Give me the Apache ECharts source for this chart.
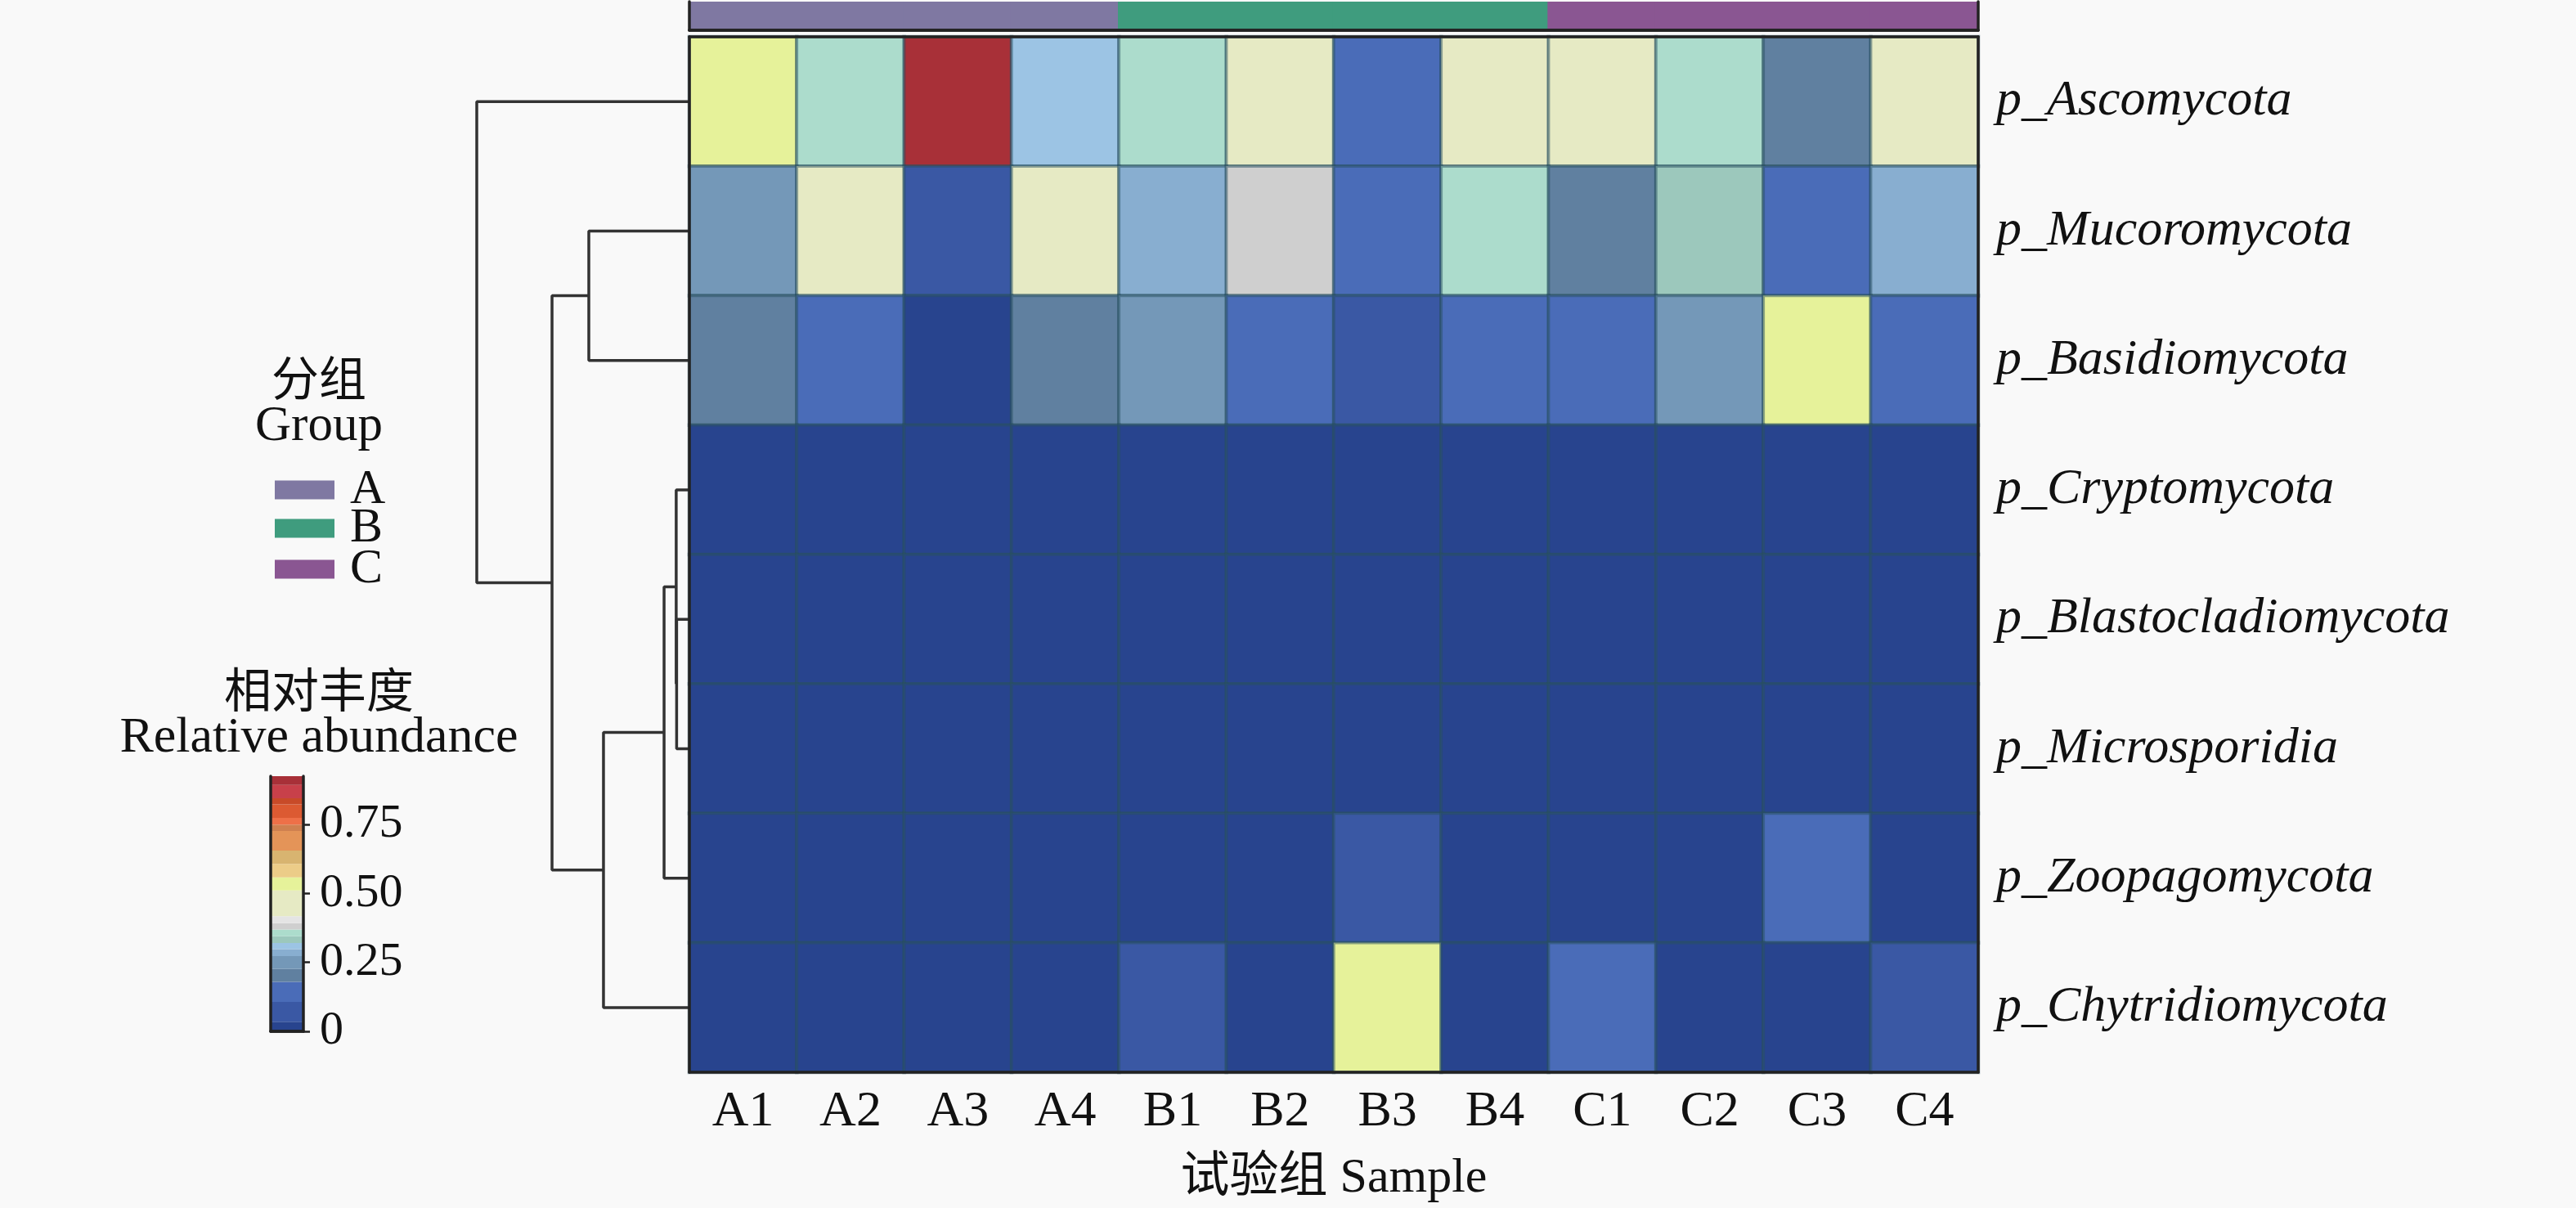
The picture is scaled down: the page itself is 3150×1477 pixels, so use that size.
<!DOCTYPE html>
<html><head><meta charset="utf-8">
<script src="https://cdn.jsdelivr.net/npm/echarts@6/dist/echarts.min.js"></script>
<style>html,body{margin:0;padding:0;background:#f9f9f9}#c{width:3150px;height:1477px}</style>
</head><body><div id="c"></div>
<script>
// ---------- data ----------
const samples = ['A1','A2','A3','A4','B1','B2','B3','B4','C1','C2','C3','C4'];
const groupOf = ['A','A','A','A','B','B','B','B','C','C','C','C'];
const groups = ['A','B','C'];
const groupColors = ['#7f78a2','#3f9c7e','#8a5692'];
const phyla = ['p_Ascomycota','p_Mucoromycota','p_Basidiomycota','p_Cryptomycota',
  'p_Blastocladiomycota','p_Microsporidia','p_Zoopagomycota','p_Chytridiomycota'];
const ascomycota         = [0.53,0.355,0.90,0.31,0.355,0.45,0.14,0.45,0.45,0.355,0.20,0.44];
const mucoromycota       = [0.25,0.45,0.07,0.45,0.285,0.38,0.14,0.355,0.20,0.33,0.14,0.285];
const basidiomycota      = [0.20,0.14,0.02,0.19,0.25,0.14,0.08,0.14,0.14,0.25,0.53,0.14];
const cryptomycota       = [0.004,0.003,0.001,0.004,0.005,0.004,0.003,0.004,0.005,0.003,0.002,0.004];
const blastocladiomycota = [0.003,0.002,0.001,0.003,0.004,0.003,0.002,0.003,0.004,0.002,0.002,0.003];
const microsporidia      = [0.002,0.002,0.001,0.002,0.003,0.002,0.003,0.002,0.003,0.002,0.002,0.002];
const zoopagomycota      = [0.01,0.01,0.004,0.012,0.02,0.012,0.07,0.01,0.02,0.012,0.13,0.01];
const chytridiomycota    = [0.02,0.03,0.004,0.02,0.08,0.02,0.53,0.02,0.14,0.02,0.01,0.08];
const rows = [ascomycota,mucoromycota,basidiomycota,cryptomycota,blastocladiomycota,
  microsporidia,zoopagomycota,chytridiomycota];

// colour scale (lower bounds of each step, last = max)
const colorBreaks = [0,0.035,0.107,0.179,0.226,0.273,0.298,0.32,0.345,0.369,0.392,0.417,
  0.511,0.558,0.607,0.655,0.726,0.749,0.774,0.823,0.845,0.893,0.925];
const colorSteps = ['#28448e','#3a58a4','#4a6cb8','#6080a0','#7498b8','#88aed0','#9cc4e4',
  '#9cc8bc','#acdccc','#cfcfcf','#e4e4e4','#e6eac4','#e6f29a','#eccc88','#d8b470','#e49458',
  '#cf8050','#ee7048','#dc5a32','#c84a28','#c8404a','#a83038'];
const colorTicks = [0,0.25,0.5,0.75];

// row dendrogram: [childA, childB, height]; 0-7 = leaves (rows), 8+ = earlier merges
const merges = [[4,5,0.060],[3,8,0.062],[9,6,0.119],[10,7,0.404],[1,2,0.473],[12,11,0.646],[0,13,1.0]];

// ---------- build ----------
const SERIF = "'Liberation Serif','Times New Roman','Noto Sans CJK SC',serif";
const TXT = '#111';
const heatData = [];
rows.forEach((r, yi) => r.forEach((v, xi) => heatData.push([xi, yi, v])));

const pieces = colorSteps.map((c, i) => i === colorSteps.length - 1
  ? {gte: colorBreaks[i], lte: 1, color: c}
  : {gte: colorBreaks[i], lt: colorBreaks[i+1], color: c});

const nodes = phyla.map((p, i) => ({pos: i + 0.5, h: 0}));
const dendroSeries = [];
merges.forEach(m => {
  const a = nodes[m[0]], b = nodes[m[1]], h = m[2];
  dendroSeries.push({
    type: 'line', xAxisIndex: 4, yAxisIndex: 4, symbol: 'none', silent: true, clip: false,
    lineStyle: {color: '#333', width: 3.5},
    data: [[a.h, a.pos], [h, a.pos], [h, b.pos], [b.h, b.pos]]
  });
  nodes.push({pos: (a.pos + b.pos) / 2, h: h});
});

const groupSeries = groups.map((g, gi) => ({
  type: 'bar', name: g, xAxisIndex: 2, yAxisIndex: 2, barWidth: 134, barGap: '-100%',
  silent: true, itemStyle: {color: groupColors[gi]},
  data: groupOf.map(x => x === g ? 1 : '-')
}));

const cbSeries = colorSteps.map((c, i) => ({
  type: 'bar', stack: 'cb', xAxisIndex: 5, yAxisIndex: 5, barWidth: '100%', silent: true,
  itemStyle: {color: c}, data: [+(colorBreaks[i+1] - colorBreaks[i]).toFixed(4)]
}));

const lineOnly = (extra) => Object.assign({
  axisLabel: {show: false}, axisTick: {show: false}, splitLine: {show: false},
  axisLine: {show: true, lineStyle: {color: '#222', width: 3.5}}, z: 10
}, extra);

const legendTops = [569, 616, 666];
const legends = groups.map((g, gi) => ({
  data: [g], orient: 'vertical', left: 336, top: legendTops[gi], padding: 0,
  itemWidth: 73, itemHeight: 23, icon: 'rect', selectedMode: false,
  textStyle: {color: TXT, fontSize: 60, fontFamily: SERIF, padding: [0,0,0,14]}
}));

const HM = {left: 843, top: 45, width: 1576, height: 1266};
const chart = echarts.init(document.getElementById('c'));
chart.setOption({
  animation: false,
  backgroundColor: '#f9f9f9',
  textStyle: {fontFamily: SERIF},
  grid: [
    HM,
    {left: 843, top: 2, width: 1576, height: 35},
    {left: 583, top: 45, width: 260, height: 1266},
    {left: 331, top: 949, width: 40, height: 312}
  ],
  xAxis: [
    {type: 'category', gridIndex: 0, data: samples, position: 'bottom', z: 10,
      axisLine: {lineStyle: {color: '#222', width: 3.5}},
      axisTick: {alignWithLabel: true, length: 14, lineStyle: {color: '#222', width: 2.5}},
      axisLabel: {color: TXT, fontSize: 62, fontFamily: SERIF, margin: 18},
      name: '试验组 Sample', nameLocation: 'middle', nameGap: 100,
      nameTextStyle: {color: TXT, fontSize: 60, fontFamily: SERIF}},
    lineOnly({type: 'category', gridIndex: 0, data: samples, position: 'top'}),
    lineOnly({type: 'category', gridIndex: 1, data: samples, position: 'bottom'}),
    lineOnly({type: 'category', gridIndex: 1, data: samples, position: 'top'}),
    {type: 'value', gridIndex: 2, min: 0, max: 1, inverse: true, show: false},
    lineOnly({type: 'category', gridIndex: 3, data: [''], position: 'bottom'}),
    lineOnly({type: 'category', gridIndex: 3, data: [''], position: 'top'})
  ],
  yAxis: [
    {type: 'category', gridIndex: 0, data: phyla, inverse: true, position: 'right', z: 10,
      axisLine: {lineStyle: {color: '#222', width: 3.5}},
      axisTick: {length: 13, lineStyle: {color: '#222', width: 2.5}},
      axisLabel: {color: TXT, fontSize: 62, fontStyle: 'italic', fontFamily: SERIF, margin: 22,
        padding: [0,0,6,0]}},
    lineOnly({type: 'category', gridIndex: 0, data: phyla, inverse: true, position: 'left'}),
    lineOnly({type: 'value', gridIndex: 1, min: 0, max: 1, position: 'left'}),
    lineOnly({type: 'value', gridIndex: 1, min: 0, max: 1, position: 'right'}),
    {type: 'value', gridIndex: 2, min: 0, max: 8, inverse: true, show: false},
    {type: 'value', gridIndex: 3, min: 0, max: 0.925, position: 'right', z: 10,
      splitLine: {show: false},
      axisLine: {show: true, lineStyle: {color: '#222', width: 3.5}},
      axisTick: {show: true, length: 8, customValues: colorTicks, lineStyle: {color: '#222', width: 2.5}},
      axisLabel: {color: TXT, fontSize: 58, fontFamily: SERIF, margin: 20, customValues: colorTicks,
        formatter: v => v === 0 ? '0' : v.toFixed(2)}},
    lineOnly({type: 'value', gridIndex: 3, min: 0, max: 0.925, position: 'left'})
  ],
  visualMap: {type: 'piecewise', show: false, seriesIndex: 0, dimension: 2, pieces: pieces},
  legend: legends,
  graphic: [
    {type: 'text', x: 390, y: 462, style: {text: '分组', fill: TXT, font: "58px 'Noto Sans CJK SC'", textAlign: 'center', textVerticalAlign: 'middle'}},
    {type: 'text', x: 390, y: 522, style: {text: 'Group', fill: TXT, font: '61px ' + SERIF, textAlign: 'center', textVerticalAlign: 'middle'}},
    {type: 'text', x: 390, y: 843, style: {text: '相对丰度', fill: TXT, font: "58px 'Noto Sans CJK SC'", textAlign: 'center', textVerticalAlign: 'middle'}},
    {type: 'text', x: 390, y: 903, style: {text: 'Relative abundance', fill: TXT, font: '62px ' + SERIF, textAlign: 'center', textVerticalAlign: 'middle'}}
  ],
  series: [
    {type: 'heatmap', xAxisIndex: 0, yAxisIndex: 0, data: heatData, silent: true,
      itemStyle: {borderColor: 'rgba(40,80,95,0.5)', borderWidth: 4}},
    ...groupSeries,
    ...dendroSeries,
    ...cbSeries
  ]
});
</script></body></html>
